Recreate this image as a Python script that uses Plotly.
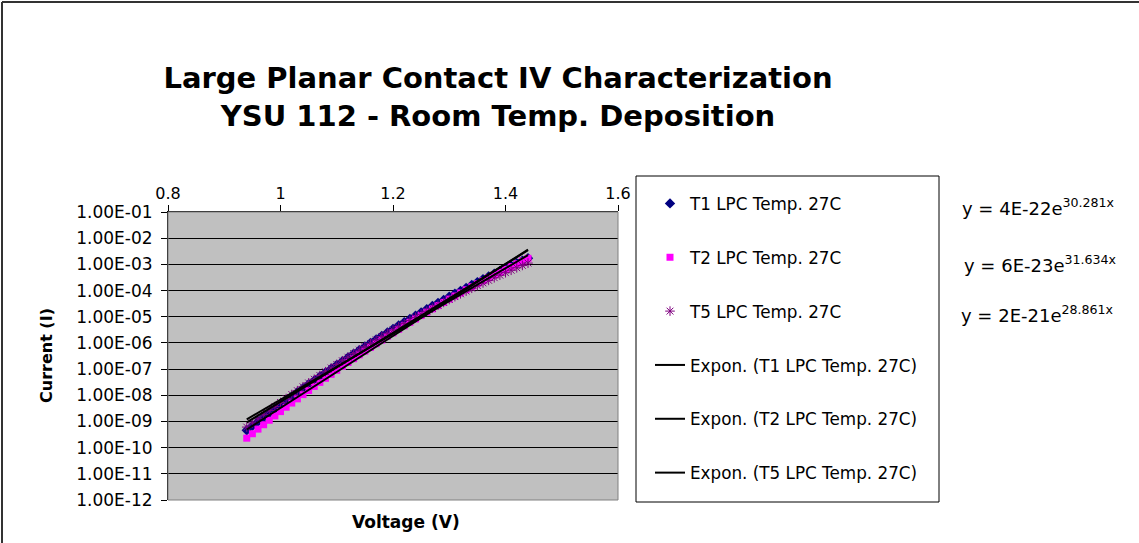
import math
import plotly.graph_objects as go

# Bias voltage sweep (V)
voltage = [0.94, 0.95, 0.96, 0.97, 0.98, 0.99, 1.00, 1.01, 1.02, 1.03,
           1.04, 1.05, 1.06, 1.07, 1.08, 1.09, 1.10, 1.11, 1.12, 1.13,
           1.14, 1.15, 1.16, 1.17, 1.18, 1.19, 1.20, 1.21, 1.22, 1.23,
           1.24, 1.25, 1.26, 1.27, 1.28, 1.29, 1.30, 1.31, 1.32, 1.33,
           1.34, 1.35, 1.36, 1.37, 1.38, 1.39, 1.40, 1.41, 1.42, 1.43,
           1.44]

# Measured current (A) per contact
t1_current = [4.6e-10, 6.8e-10, 9.9e-10, 1.45e-9, 2.1e-9, 3.05e-9, 4.4e-9, 6.3e-9, 9.1e-9, 1.30e-8,
              1.85e-8, 2.63e-8, 3.7e-8, 5.25e-8, 7.4e-8, 1.04e-7, 1.45e-7, 2.0e-7, 2.8e-7, 3.9e-7,
              5.3e-7, 7.3e-7, 1.0e-6, 1.37e-6, 1.86e-6, 2.5e-6, 3.4e-6, 4.6e-6, 6.2e-6, 8.2e-6,
              1.10e-5, 1.46e-5, 1.94e-5, 2.56e-5, 3.37e-5, 4.4e-5, 5.8e-5, 7.5e-5, 9.75e-5, 1.26e-4,
              1.63e-4, 2.1e-4, 2.7e-4, 3.45e-4, 4.4e-4, 5.55e-4, 7.0e-4, 8.9e-4, 1.11e-3, 1.39e-3,
              1.73e-3]
t2_current = [2.3e-10, 3.4e-10, 5.1e-10, 7.5e-10, 1.11e-9, 1.63e-9, 2.38e-9, 3.5e-9, 5.05e-9, 7.3e-9,
              1.06e-8, 1.52e-8, 2.18e-8, 3.1e-8, 4.45e-8, 6.3e-8, 8.95e-8, 1.26e-7, 1.78e-7, 2.49e-7,
              3.5e-7, 4.85e-7, 6.7e-7, 9.3e-7, 1.28e-6, 1.77e-6, 2.42e-6, 3.3e-6, 4.5e-6, 6.1e-6,
              8.2e-6, 1.11e-5, 1.49e-5, 2.0e-5, 2.66e-5, 3.53e-5, 4.7e-5, 6.2e-5, 8.1e-5, 1.07e-4,
              1.40e-4, 1.82e-4, 2.37e-4, 3.06e-4, 3.95e-4, 5.1e-4, 6.5e-4, 8.3e-4, 1.06e-3, 1.35e-3,
              1.70e-3]
t5_current = [6.1e-10, 8.8e-10, 1.27e-9, 1.82e-9, 2.6e-9, 3.7e-9, 5.3e-9, 7.5e-9, 1.07e-8, 1.50e-8,
              2.11e-8, 2.96e-8, 4.1e-8, 5.7e-8, 7.95e-8, 1.10e-7, 1.51e-7, 2.08e-7, 2.84e-7, 3.9e-7,
              5.3e-7, 7.1e-7, 9.6e-7, 1.30e-6, 1.74e-6, 2.33e-6, 3.1e-6, 4.1e-6, 5.45e-6, 7.2e-6,
              9.45e-6, 1.24e-5, 1.62e-5, 2.1e-5, 2.74e-5, 3.53e-5, 4.55e-5, 5.85e-5, 7.5e-5, 9.55e-5,
              1.22e-4, 1.54e-4, 1.95e-4, 2.45e-4, 3.08e-4, 3.85e-4, 4.8e-4, 5.95e-4, 7.4e-4, 9.1e-4,
              1.12e-3]

series_names = ["T1 LPC Temp. 27C", "T2 LPC Temp. 27C", "T5 LPC Temp. 27C"]

# Exponential fit coefficients y = A * exp(B * x)
fit_prefactor = [4e-22, 6e-23, 2e-21]
fit_exponent = [30.281, 31.634, 28.861]
fit_labels = ["y = 4E-22e<sup>30.281x</sup>",
              "y = 6E-23e<sup>31.634x</sup>",
              "y = 2E-21e<sup>28.861x</sup>"]

y_tick_vals = [1e-12, 1e-11, 1e-10, 1e-9, 1e-8, 1e-7, 1e-6, 1e-5, 1e-4, 1e-3, 1e-2, 1e-1]
y_tick_text = ["1.00E-12", "1.00E-11", "1.00E-10", "1.00E-09", "1.00E-08", "1.00E-07",
               "1.00E-06", "1.00E-05", "1.00E-04", "1.00E-03", "1.00E-02", "1.00E-01"]

FONT = "DejaVu Sans"
W, H = 1139, 543
L, R, T, B = 168, 521, 212, 43
PW, PH = W - L - R, H - T - B


def px_x(px):
    return (px - L) / PW


def px_y(py):
    return (H - B - py) / PH


fig = go.Figure()

marker_styles = [
    dict(symbol="diamond", color="#000080", size=8),
    dict(symbol="square", color="#FF00FF", size=7),
    dict(symbol="asterisk-open", color="#800080", size=8, line=dict(color="#800080", width=1)),
]
currents = [t1_current, t2_current, t5_current]

for i, (name, cur, mk) in enumerate(zip(series_names, currents, marker_styles)):
    fig.add_trace(go.Scatter(
        x=voltage, y=cur, mode="markers", name=name, marker=mk,
        legendgroup=f"g{i}",
    ))

# Exponential trendlines over the measured voltage span
x_lo, x_hi = min(voltage), max(voltage)
n_fit = 60
fit_x = [x_lo + (x_hi - x_lo) * k / (n_fit - 1) for k in range(n_fit)]
for i, (name, a, b) in enumerate(zip(series_names, fit_prefactor, fit_exponent)):
    fig.add_trace(go.Scatter(
        x=fit_x, y=[a * math.exp(b * v) for v in fit_x], mode="lines",
        name=f"Expon. ({name})", line=dict(color="black", width=2),
        legendgroup=f"g{i + 3}",
    ))

shapes = [
    # plot-area frame
    dict(type="rect", xref="paper", yref="paper", x0=0, x1=1, y0=0, y1=1,
         line=dict(color="#808080", width=1), layer="above"),
    # legend frame
    dict(type="rect", xref="paper", yref="paper",
         x0=px_x(636), x1=px_x(939), y0=px_y(502), y1=px_y(176),
         line=dict(color="black", width=1), fillcolor="rgba(0,0,0,0)"),
    # chart-area border (left and top edges)
    dict(type="line", xref="paper", yref="paper",
         x0=px_x(2), x1=px_x(2), y0=px_y(560), y1=px_y(2),
         line=dict(color="#333333", width=2)),
    dict(type="line", xref="paper", yref="paper",
         x0=px_x(2), x1=px_x(1150), y0=px_y(2), y1=px_y(2),
         line=dict(color="#333333", width=2)),
]

annotations = [
    dict(text="<b>Current (I)</b>", xref="paper", yref="paper",
         x=px_x(46), y=px_y(355), xanchor="center", yanchor="middle",
         textangle=-90, showarrow=False,
         font=dict(family=FONT, size=16, color="black")),
    dict(text="<b>Voltage (V)</b>", xref="paper", yref="paper",
         x=px_x(406), y=px_y(522), xanchor="center", yanchor="middle",
         showarrow=False,
         font=dict(family=FONT, size=17, color="black")),
]
for lbl, (ex, ey) in zip(fit_labels, [(960, 207), (962, 264), (959, 314)]):
    annotations.append(dict(
        text=lbl, xref="paper", yref="paper", x=px_x(ex), y=px_y(ey),
        xanchor="left", yanchor="middle", showarrow=False,
        font=dict(family=FONT, size=18, color="black"),
    ))

fig.update_layout(
    width=W, height=H,
    margin=dict(l=L, r=R, t=T, b=B, autoexpand=False),
    paper_bgcolor="white", plot_bgcolor="#C0C0C0",
    title=dict(
        text="<b>Large Planar Contact IV Characterization<br>YSU 112 - Room Temp. Deposition</b>",
        x=498 / W, xanchor="center", xref="container",
        y=1 - 88 / H, yanchor="top", yref="container",
        font=dict(family=FONT, size=29, color="black"),
    ),
    xaxis=dict(
        range=[0.8, 1.6], side="top", tick0=0.8, dtick=0.2,
        ticks="outside", ticklen=6, tickcolor="black",
        showline=True, linecolor="black", linewidth=1,
        showgrid=False, zeroline=False,
        tickfont=dict(family=FONT, size=16, color="black"),
    ),
    yaxis=dict(
        type="log", range=[-12, -1],
        tickvals=y_tick_vals, ticktext=y_tick_text,
        ticks="outside", ticklen=6, tickcolor="black",
        ticklabelstandoff=5,
        showline=True, linecolor="black", linewidth=1,
        showgrid=True, gridcolor="black", gridwidth=1,
        zeroline=False,
        tickfont=dict(family=FONT, size=17, color="black"),
    ),
    legend=dict(
        x=px_x(650), y=px_y(186), xanchor="left", yanchor="top",
        traceorder="grouped", tracegroupgap=29, indentation=0,
        maxheight=420,
        bgcolor="rgba(0,0,0,0)", borderwidth=0,
        font=dict(family=FONT, size=16.8, color="black"),
    ),
    shapes=shapes,
    annotations=annotations,
    showlegend=True,
)

fig.write_html("out.html")
